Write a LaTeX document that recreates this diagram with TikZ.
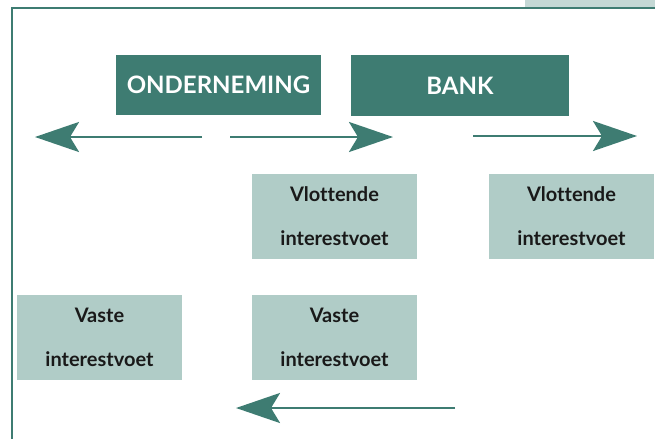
\documentclass[tikz,border=0pt]{standalone}
\usepackage{fontspec}
\setmainfont{Lato}[Ligatures = NoCommon]
\usepackage{tikz}
\usetikzlibrary{arrows.meta}
\definecolor{verdescuro}{RGB}{62,124,114}
\definecolor{verdechiaro}{RGB}{176,204,199}
\definecolor{verdebordo}{RGB}{196,216,213}
\tikzset{
  partij/.style = {fill = verdescuro, text = white, inner sep = 0pt, font = \bfseries\fontsize{24}{26}\selectfont},
  rente/.style = {fill = verdechiaro, text = black!90, inner sep = 0pt, minimum width = 165pt, minimum height = 85pt, align = center, font = \bfseries\fontsize{20}{44}\selectfont},
  stroom/.style = {verdescuro, line width = 2.7pt, -{Stealth[length = 44pt, width = 30pt, inset = 9pt]}}
}
\begin{document}
\begin{tikzpicture}[x = 1pt, y = -1pt]
    \useasboundingbox (0,0) rectangle (655,439);
    % Cornice
    \fill[verdebordo] (525,0) rectangle (655,7);
    \draw[verdescuro, line width = 1.3pt] (655,8) -- (12,8) -- (12,439);
    % Partijen
    \node[partij, minimum width = 205pt, minimum height = 60pt] (onderneming) at (218.5,84.5) {ONDERNEMING};
    \node[partij, minimum width = 218pt, minimum height = 61pt] (bank) at (460,85.5) {BANK};
    % Interestvoeten
    \node[rente] (vlot1) at (334.5,216.5) {Vlottende\\interestvoet};
    \node[rente] (vlot2) at (571.5,216.5) {Vlottende\\interestvoet};
    \node[rente] (vast1) at (99.5,337.5) {Vaste\\interestvoet};
    \node[rente] (vast2) at (334.5,337.5) {Vaste\\interestvoet};
    % Stromen
    \coordinate (a1) at (202,137);
    \coordinate (b1) at (35,137);
    \coordinate (a2) at (230,137);
    \coordinate (b2) at (393,137);
    \coordinate (a3) at (473,136);
    \coordinate (b3) at (637,136);
    \coordinate (a4) at (455,408);
    \coordinate (b4) at (236,408);
    \draw[stroom] (a1) -- (b1);
    \draw[stroom] (a2) -- (b2);
    \draw[stroom] (a3) -- (b3);
    \draw[stroom] (a4) -- (b4);
\end{tikzpicture}
\end{document}
